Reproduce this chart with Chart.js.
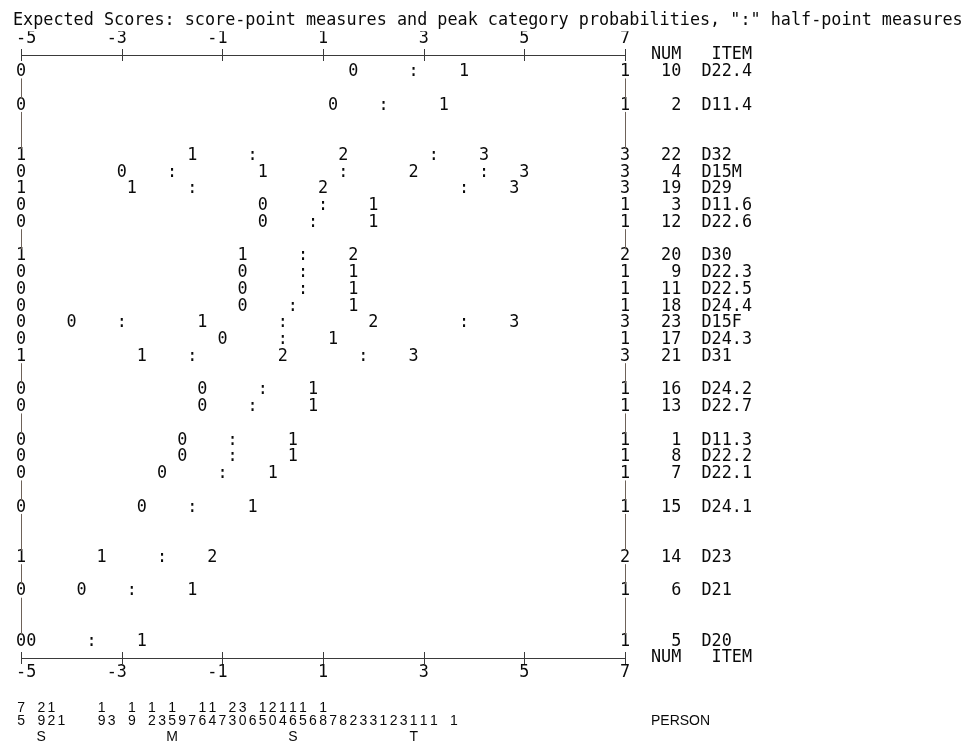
<!DOCTYPE html>
<html>
<head>
<meta charset="utf-8">
<title>Expected Scores map</title>
<script src="https://cdn.jsdelivr.net/npm/chart.js@4.4.0/dist/chart.umd.min.js"></script>
<style>
  html, body { margin: 0; padding: 0; background: #fff; }
  #wrap { width: 964px; height: 746px; }
</style>
</head>
<body>
<div id="wrap"><canvas id="mapChart"></canvas></div>
<script>
// items, in map order (text line: top axis = 0, bottom axis = 36)
var itemNames = ["D22.4", "D11.4", "D32", "D15M", "D29", "D11.6", "D22.6", "D30", "D22.3", "D22.5", "D24.4",
  "D15F", "D24.3", "D31", "D24.2", "D22.7", "D11.3", "D22.2", "D22.1", "D24.1", "D23", "D21", "D20"];
var itemNums = [10, 2, 22, 4, 19, 3, 12, 20, 9, 11, 18, 23, 17, 21, 16, 13, 1, 8, 7, 15, 14, 6, 5];
var itemRows = [1, 3, 6, 7, 8, 9, 10, 12, 13, 14, 15, 16, 17, 18, 20, 21, 23, 24, 25, 27, 30, 32, 35];

// lowest / highest category printed at the edges of the map
var lowCat = [0, 0, 1, 0, 1, 0, 0, 1, 0, 0, 0, 0, 0, 1, 0, 0, 0, 0, 0, 0, 1, 0, 0];
var highCat = [1, 1, 3, 3, 3, 1, 1, 2, 1, 1, 1, 3, 1, 3, 1, 1, 1, 1, 1, 1, 2, 1, 1];

// score points and ":" half-points along each item row
var markLabels = [
  ["0", ":", "1"],
  ["0", ":", "1"],
  ["1", ":", "2", ":", "3"],
  ["0", ":", "1", ":", "2", ":", "3"],
  ["1", ":", "2", ":", "3"],
  ["0", ":", "1"],
  ["0", ":", "1"],
  ["1", ":", "2"],
  ["0", ":", "1"],
  ["0", ":", "1"],
  ["0", ":", "1"],
  ["0", ":", "1", ":", "2", ":", "3"],
  ["0", ":", "1"],
  ["1", ":", "2", ":", "3"],
  ["0", ":", "1"],
  ["0", ":", "1"],
  ["0", ":", "1"],
  ["0", ":", "1"],
  ["0", ":", "1"],
  ["0", ":", "1"],
  ["1", ":", "2"],
  ["0", ":", "1"],
  ["0", ":", "1"]
];
var markMeasures = [
  [1.6, 2.8, 3.8],
  [1.2, 2.2, 3.4],
  [-1.6, -0.4, 1.4, 3.2, 4.2],
  [-3.0, -2.0, -0.2, 1.4, 2.8, 4.2, 5.0],
  [-2.8, -1.6, 1.0, 3.8, 4.8],
  [-0.2, 1.0, 2.0],
  [-0.2, 0.8, 2.0],
  [-0.6, 0.6, 1.6],
  [-0.6, 0.6, 1.6],
  [-0.6, 0.6, 1.6],
  [-0.6, 0.4, 1.6],
  [-4.0, -3.0, -1.4, 0.2, 2.0, 3.8, 4.8],
  [-1.0, 0.2, 1.2],
  [-2.6, -1.6, 0.2, 1.8, 2.8],
  [-1.4, -0.2, 0.8],
  [-1.4, -0.4, 0.8],
  [-1.8, -0.8, 0.4],
  [-1.8, -0.8, 0.4],
  [-2.2, -1.0, 0.0],
  [-2.6, -1.6, -0.4],
  [-3.4, -2.2, -1.2],
  [-3.8, -2.8, -1.6],
  [-4.8, -3.6, -2.6]
];

// person distribution, one count per 0.2 logit starting at -5
var personStart = -5;
var personStep = 0.2;
var personCounts = [75, 0, 29, 12, 1, 0, 0, 0, 19, 3, 0, 19, 0, 12, 3, 15, 9, 7, 16, 14, 7, 23, 30, 6,
  15, 20, 14, 16, 15, 6, 18, 7, 8, 2, 3, 3, 1, 2, 3, 1, 1, 1, 0, 1];
var personMarkLabels = ["S", "M", "S", "T"];
var personMarkMeasures = [-4.6, -2.0, 0.4, 2.8];

var MONO = "DejaVu Sans Mono";
var INK = "#0a0a0a";
var LINE = "#3a3a3a";

var points = [];
itemRows.forEach(function (row, i) {
  points.push({ x: -5, y: row, t: String(lowCat[i]) });
  markMeasures[i].forEach(function (m, j) {
    points.push({ x: m, y: row, t: markLabels[i][j] });
  });
  points.push({ x: 7, y: row, t: String(highCat[i]) });
});

function pad3(n) {
  var s = String(n);
  while (s.length < 3) s = " " + s;
  return s;
}

var textMap = {
  id: "textMap",
  afterDatasetsDraw: function (chart) {
    var ctx = chart.ctx;
    var xs = chart.scales.x;
    var ys = chart.scales.y;
    var area = chart.chartArea;
    ctx.save();

    // characters of the map
    ctx.font = "16.8px '" + MONO + "'";
    ctx.fillStyle = INK;
    ctx.textAlign = "center";
    ctx.textBaseline = "middle";
    chart.data.datasets.forEach(function (ds, di) {
      chart.getDatasetMeta(di).data.forEach(function (el, j) {
        ctx.fillText(ds.data[j].t, el.x, el.y);
      });
    });

    // "+" marks on both axis lines
    ctx.strokeStyle = LINE;
    ctx.lineWidth = 1;
    xs.ticks.forEach(function (tk) {
      var px = Math.round(xs.getPixelForValue(tk.value)) + 0.5;
      [area.top, area.bottom].forEach(function (py) {
        ctx.beginPath();
        ctx.moveTo(px, py - 6);
        ctx.lineTo(px, py + 6);
        ctx.stroke();
      });
    });

    // "|" edges on blank lines
    ctx.strokeStyle = "#6e6259";
    for (var line = 1; line < 36; line++) {
      if (itemRows.indexOf(line) >= 0) continue;
      [xs.min, xs.max].forEach(function (v) {
        var px = Math.round(xs.getPixelForValue(v)) + 0.5;
        ctx.beginPath();
        ctx.moveTo(px, ys.getPixelForValue(line - 0.6));
        ctx.lineTo(px, ys.getPixelForValue(line + 0.6));
        ctx.stroke();
      });
    }

    // person distribution under the map
    var yTens = area.bottom + 50;
    var yUnits = area.bottom + 63;
    var yMarks = area.bottom + 79;
    ctx.font = "14px 'Liberation Sans'";
    personCounts.forEach(function (n, c) {
      var px = xs.getPixelForValue(personStart + c * personStep);
      if (n >= 10) ctx.fillText(String(Math.floor(n / 10)), px, yTens);
      if (n > 0) ctx.fillText(String(n % 10), px, yUnits);
    });
    personMarkLabels.forEach(function (s, k) {
      ctx.fillText(s, xs.getPixelForValue(personMarkMeasures[k]), yMarks);
    });
    ctx.textAlign = "left";
    ctx.fillText("PERSON", area.right + 26, yUnits);

    ctx.restore();
  }
};

function xLabel(v) {
  if (v === -5) return " -5";
  return v < 0 ? v + " " : String(v);
}

var tickFont = { family: MONO, size: 16.8 };

new Chart(document.getElementById("mapChart"), {
  type: "scatter",
  data: {
    datasets: [{
      label: "Expected scores",
      data: points,
      pointRadius: 0,
      pointHoverRadius: 0,
      showLine: false
    }]
  },
  options: {
    responsive: true,
    maintainAspectRatio: false,
    animation: false,
    layout: { padding: { left: 13, right: 0, top: 0, bottom: 58 } },
    plugins: {
      legend: { display: false },
      tooltip: { enabled: false },
      title: {
        display: true,
        text: 'Expected Scores: score-point measures and peak category probabilities, ":" half-point measures',
        align: "start",
        color: INK,
        font: { family: MONO, size: 16.8, weight: "normal" },
        padding: { top: 11, bottom: 0 }
      }
    },
    scales: {
      x: {
        type: "linear",
        position: "bottom",
        min: -5,
        max: 7,
        afterFit: function (s) { s.height = 30; },
        grid: { display: false, drawTicks: false },
        border: { display: true, color: LINE, width: 1 },
        ticks: { stepSize: 2, autoSkip: false, maxRotation: 0, padding: 5, color: INK, font: tickFont, callback: xLabel }
      },
      x2: {
        type: "linear",
        position: "top",
        min: -5,
        max: 7,
        afterFit: function (s) { s.height = 23.84; },
        grid: { display: false, drawTicks: false },
        border: { display: true, color: LINE, width: 1 },
        ticks: { stepSize: 2, autoSkip: false, maxRotation: 0, padding: 6, color: INK, font: tickFont, callback: xLabel }
      },
      y: {
        type: "linear",
        position: "left",
        min: 0,
        max: 36,
        reverse: true,
        afterFit: function (s) { s.width = 5.3; },
        grid: { display: false, drawTicks: false },
        border: { display: false },
        ticks: { display: false }
      },
      yR: {
        type: "linear",
        position: "right",
        min: 0,
        max: 36,
        reverse: true,
        afterBuildTicks: function (s) {
          s.ticks = [0].concat(itemRows, [36]).map(function (v) { return { value: v }; });
        },
        afterFit: function (s) { s.width = 339; },
        grid: { display: false, drawTicks: false },
        border: { display: false },
        ticks: {
          autoSkip: false,
          padding: 26,
          crossAlign: "near",
          color: INK,
          font: tickFont,
          callback: function (v) {
            if (v === 0 || v === 36) return "NUM   ITEM";
            var i = itemRows.indexOf(v);
            return pad3(itemNums[i]) + "  " + itemNames[i];
          }
        }
      }
    }
  },
  plugins: [textMap]
});
</script>
</body>
</html>
